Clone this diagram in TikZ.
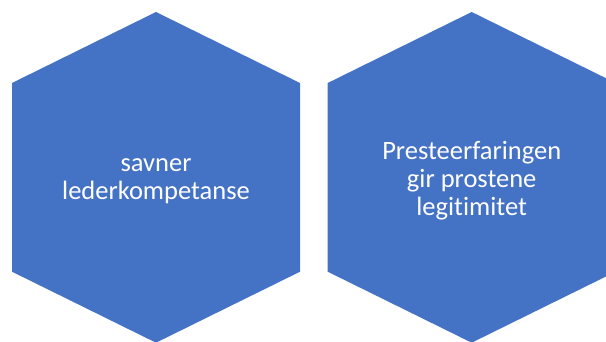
\documentclass[tikz,border=0pt]{standalone}
\usepackage{fontspec}
\setmainfont{Carlito}[Ligatures=NoCommon]
\definecolor{hexblue}{HTML}{4472C4}
\tikzset{
  hexfill/.style={fill=hexblue, draw=none},
  hextext/.style={text=white, align=center, font=\fontsize{26.5}{28}\selectfont, inner sep=0pt}
}
\begin{document}
\begin{tikzpicture}[x=1pt,y=-1pt]
\useasboundingbox (0,0) rectangle (606,342);
\clip (0,0) rectangle (606,342);
\fill[white] (0,0) rectangle (606,342);
\path[hexfill] (156,12) -- (300,83) -- (300,271.7) -- (156,342.7) -- (12,271.7) -- (12,83) -- cycle;
\path[hexfill] (471.7,12) -- (615.7,83) -- (615.7,271.7) -- (471.7,342.7) -- (327.7,271.7) -- (327.7,83) -- cycle;
\node[hextext] (left) at (156,181) {savner\\lederkompetanse};
\node[hextext] (right) at (471.7,181) {Presteerfaringen\\gir prostene\\legitimitet};
\end{tikzpicture}
\end{document}
